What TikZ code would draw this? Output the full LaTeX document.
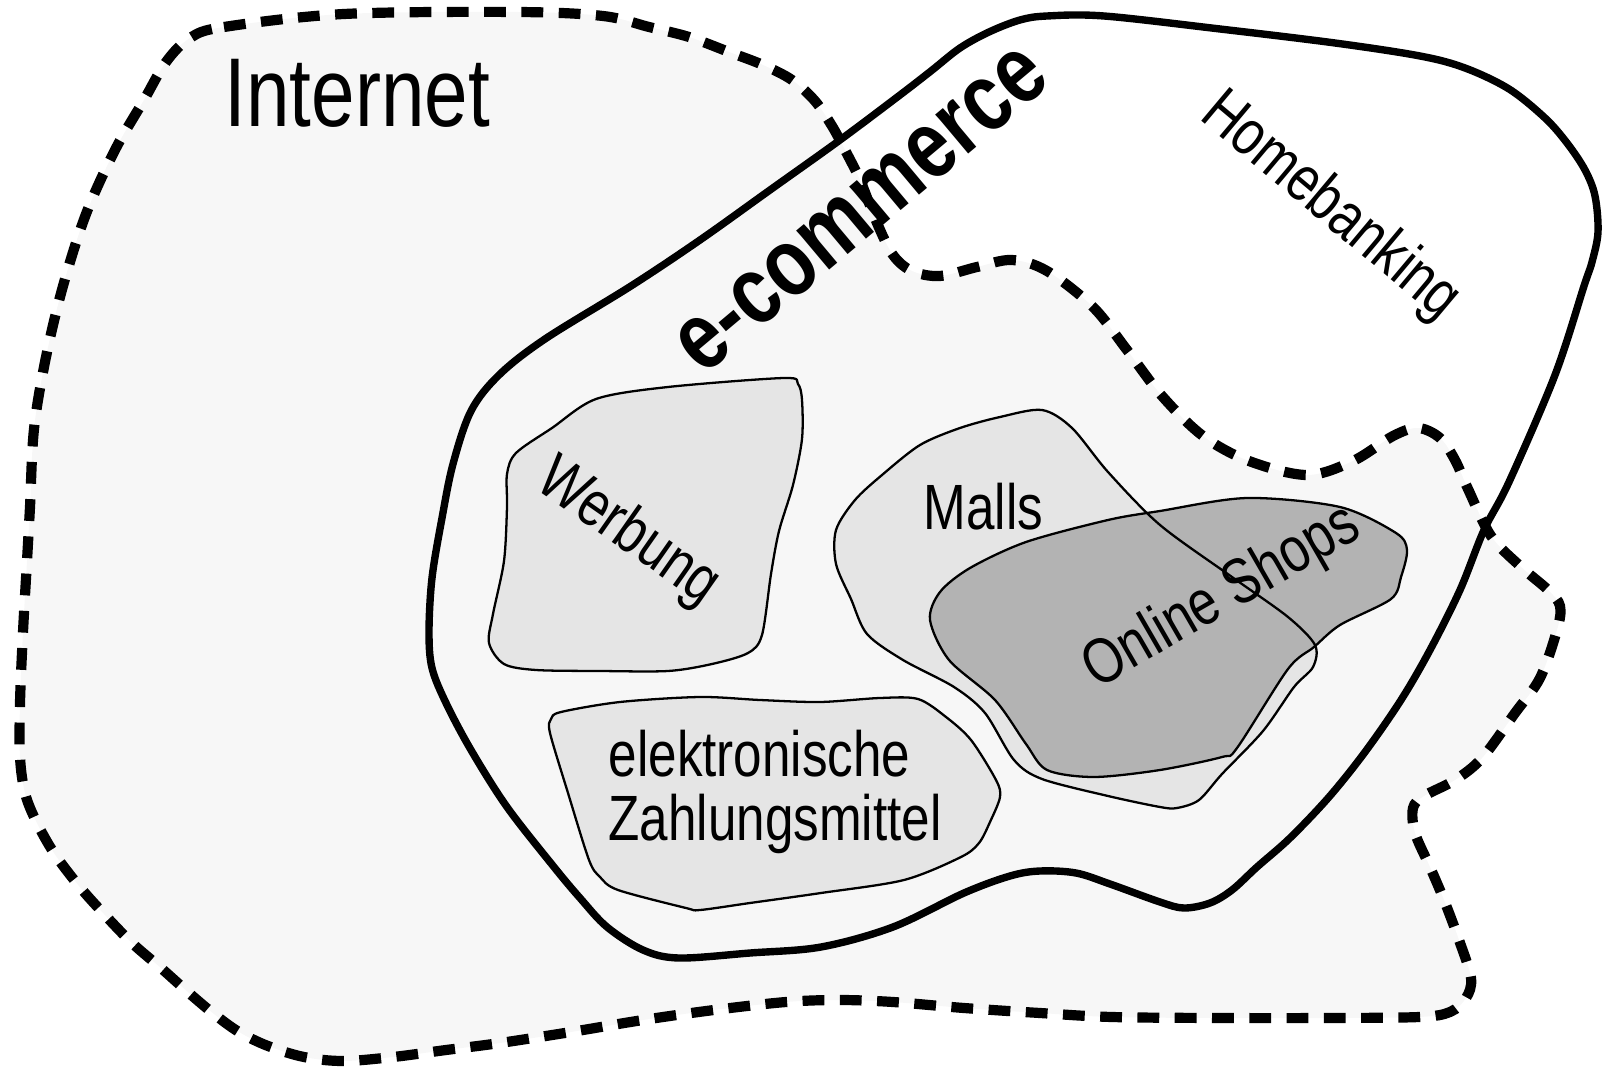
\documentclass[tikz,border=0pt]{standalone}
\usepackage{fontspec}
\setmainfont{Liberation Sans}[FakeStretch=0.8]
\definecolor{netfill}{HTML}{F7F7F7}
\definecolor{blobfill}{HTML}{E5E5E5}
\definecolor{shopfill}{HTML}{B3B3B3}
\tikzset{
  netline/.style={line width=2.9pt, dash pattern=on 6.2pt off 4.4pt},
  ecline/.style={line width=2.1pt, line join=round},
  blob/.style={line width=0.65pt, line join=round},
  lab/.style={inner sep=0pt, font=\fontsize{18.2}{18.2}\selectfont},
  biglab/.style={inner sep=0pt, font=\fontsize{27.8}{30}\selectfont},
}
\begin{document}
\begin{tikzpicture}[x=0.01cm, y=-0.01cm]
\useasboundingbox (0,0) rectangle (1606,1067);
\def\netpath{plot[smooth cycle, tension=0.55] coordinates {
(190,38) (224,27) (344,14) (517,12) (603,16) (649,27) (689,37) (729,52) (763,65) (792,80) (815,101) (832,126) (845,150) (860,180) (877,223) (893,255) (912,271) (940,276) (977,267) (1012,260) (1047,271) (1093,307) (1127,350) (1162,396) (1203,436) (1249,461) (1307,475) (1353,461) (1393,436) (1418,428) (1440,438) (1455,460) (1468,489) (1491,536) (1520,566) (1548,590) (1560,606) (1557,630) (1540,678) (1515,713) (1482,758) (1455,780) (1424,796) (1413,808) (1415,833) (1430,867) (1444,900) (1459,940) (1471,978) (1466,998) (1450,1012) (1419,1017) (1329,1018) (1220,1018) (1112,1017) (1040,1013) (964,1008) (893,1002) (839,1000) (786,1002) (714,1010) (643,1020) (571,1032) (500,1043) (446,1050) (393,1057) (343,1061) (304,1057) (268,1046) (239,1032) (214,1014) (189,993) (161,968) (132,943) (104,914) (79,886) (54,853) (36,821) (25,793) (20,757) (20,703) (23,632) (27,561) (30,507) (34,429) (46,357) (63,286) (86,214) (115,150) (144,100) (166,62)}}
% Internet area fill
\fill[netfill] \netpath;
% e-commerce outline
\draw[ecline] plot[smooth cycle, tension=0.55] coordinates {
(442,518) (453,464) (471,411) (499,375) (545,339) (631,286) (700,240) (770,190) (840,140) (900,95) (931,71) (960,48) (989,32) (1020,20) (1047,16) (1104,16) (1220,29) (1335,43) (1420,56) (1465,68) (1509,89) (1545,118) (1567,143) (1585,170) (1595,196) (1598,232) (1592,262) (1584,286) (1555,375) (1509,482) (1484,530) (1460,590) (1430,650) (1401,700) (1365,752) (1329,797) (1290,838) (1257,867) (1232,890) (1210,903) (1184,908) (1160,902) (1110,884) (1076,873) (1040,871) (1010,876) (964,893) (893,927) (821,947) (750,953) (679,958) (643,950) (607,927) (580,898) (554,867) (507,807) (471,750) (446,703) (432,668) (429,632) (432,578)};
% Werbung
\draw[blob, fill=blobfill] plot[smooth cycle, tension=0.5] coordinates {
(784,378) (798,384) (802,400) (802,439) (793,485) (779,531) (771,574) (762,635) (748,653) (712,664) (668,671) (600,671) (536,670) (504,664) (489,643) (493,614) (504,561) (507,507) (507,474) (516,453) (552,428) (596,399) (668,387)};
% Zahlungsmittel
\draw[blob, fill=blobfill] plot[smooth cycle, tension=0.5] coordinates {
(561,712) (620,702) (700,697) (760,700) (820,702) (880,698) (918,699) (946,717) (971,740) (996,780) (1000,797) (990,822) (979,843) (961,857) (904,880) (821,893) (750,903) (700,910) (686,908) (618,890) (600,877) (589,860) (568,793) (550,733) (551,719)};
% Malls
\def\mallpath{plot[smooth cycle, tension=0.5] coordinates {
(1042,410) (1072,428) (1108,472) (1160,525) (1232,577) (1288,617) (1315,645) (1313,667) (1294,687) (1263,731) (1222,774) (1199,800) (1177,808) (1160,807) (1108,796) (1042,779) (1014,760) (985,713) (954,687) (903,660) (867,634) (851,599) (836,564) (836,530) (855,500) (882,475) (920,445) (960,428) (1000,417)}}
\fill[blobfill] \mallpath;
% Online Shops
\draw[blob, fill=shopfill] plot[smooth cycle, tension=0.5] coordinates {
(1247,498) (1340,507) (1396,533) (1407,550) (1401,577) (1391,599) (1340,625) (1314,647) (1288,669) (1237,748) (1222,757) (1160,770) (1094,777) (1047,770) (1026,744) (995,700) (949,660) (930,620) (940,592) (970,568) (1026,542) (1108,520) (1160,511)};
\draw[blob] \mallpath;
% Internet dashed outline
\draw[netline] \netpath;
% labels
\node[biglab, anchor=base west] (internet) at (224,127) {Internet};
\node[inner sep=0pt, font=\fontsize{27.5}{30}\selectfont\bfseries, rotate=40] (ecom) at (862,210) {e-commerce};
\node[lab, rotate=-40] (home) at (1330,207) {Homebanking};
\node[lab, rotate=-35] (werb) at (628,533) {Werbung};
\node[lab, anchor=base west] (malls) at (923,529) {Malls};
\node[lab, rotate=30] (shops) at (1222,598) {Online Shops};
\node[lab, anchor=base west] (zahl1) at (608,776) {elektronische};
\node[lab, anchor=base west] (zahl2) at (608,840) {Zahlungsmittel};
\end{tikzpicture}
\end{document}
